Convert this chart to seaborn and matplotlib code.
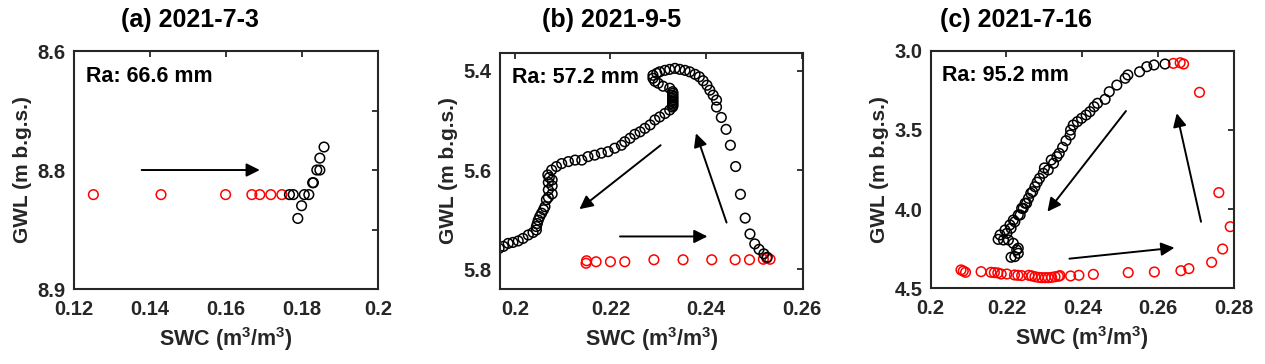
import numpy as np
import pandas as pd
import seaborn as sns
import matplotlib
matplotlib.use('Agg')
import matplotlib.pyplot as plt

sns.set_style('white')
plt.rcParams['font.family'] = ['Liberation Sans', 'DejaVu Sans']
plt.rcParams['mathtext.default'] = 'regular'

# ---- (a) 2021-7-3 ----
a_red_swc = [0.1251, 0.1429, 0.1599, 0.1668, 0.1689, 0.1718, 0.1747]
a_red_gwl = [8.781, 8.781, 8.781, 8.781, 8.781, 8.781, 8.781]
a_blk_swc = [0.1767, 0.1777, 0.1789, 0.1799, 0.1806, 0.1818, 0.1828, 0.1830,
             0.1839, 0.1847, 0.1847, 0.1858]
a_blk_gwl = [8.781, 8.781, 8.811, 8.795, 8.781, 8.781, 8.766, 8.766,
             8.750, 8.750, 8.735, 8.721]

# ---- (b) 2021-9-5 ----
b_red_swc = [0.2149, 0.2150, 0.2170, 0.2200, 0.2230, 0.2291, 0.2352, 0.2412,
             0.2461, 0.2491, 0.2520, 0.2527, 0.2534]
b_red_gwl = [5.788, 5.783, 5.785, 5.785, 5.785, 5.781, 5.781, 5.781,
             5.781, 5.781, 5.780, 5.778, 5.780]
b_blk_swc = [0.2528, 0.2521, 0.2511, 0.2502, 0.2492, 0.2482, 0.2472, 0.2462,
             0.2451, 0.2442, 0.2432, 0.2422, 0.2422, 0.2415, 0.2408, 0.2402,
             0.2394, 0.2386, 0.2377, 0.2366, 0.2356, 0.2345, 0.2335, 0.2324,
             0.2314, 0.2303, 0.2297, 0.2289, 0.2289, 0.2293, 0.2300, 0.2310,
             0.2324, 0.2330, 0.2331, 0.2330, 0.2331, 0.2330, 0.2331, 0.2330,
             0.2331, 0.2330, 0.2331, 0.2330, 0.2324, 0.2314, 0.2303, 0.2293,
             0.2283, 0.2272, 0.2262, 0.2251, 0.2241, 0.2230, 0.2223, 0.2209,
             0.2195, 0.2181, 0.2167, 0.2153, 0.2140, 0.2126, 0.2112, 0.2098,
             0.2087, 0.2077, 0.2069, 0.2072, 0.2078, 0.2070, 0.2078, 0.2070,
             0.2078, 0.2070, 0.2066, 0.2063, 0.2060, 0.2056, 0.2052, 0.2049,
             0.2047, 0.2045, 0.2045, 0.2038, 0.2028, 0.2017, 0.2007, 0.1996,
             0.1986, 0.1976, 0.1967]
b_blk_gwl = [5.776, 5.769, 5.760, 5.749, 5.729, 5.697, 5.649, 5.593,
             5.550, 5.518, 5.494, 5.473, 5.459, 5.449, 5.439, 5.429,
             5.420, 5.412, 5.407, 5.402, 5.399, 5.397, 5.395, 5.397,
             5.399, 5.402, 5.405, 5.409, 5.415, 5.421, 5.425, 5.431,
             5.435, 5.442, 5.445, 5.449, 5.452, 5.455, 5.458, 5.461,
             5.464, 5.467, 5.470, 5.473, 5.479, 5.486, 5.493, 5.499,
             5.509, 5.516, 5.523, 5.528, 5.536, 5.543, 5.550, 5.556,
             5.563, 5.566, 5.570, 5.573, 5.580, 5.580, 5.583, 5.587,
             5.593, 5.600, 5.610, 5.615, 5.620, 5.625, 5.632, 5.640,
             5.648, 5.655, 5.660, 5.674, 5.680, 5.687, 5.694, 5.701,
             5.708, 5.714, 5.721, 5.726, 5.731, 5.738, 5.743, 5.746,
             5.748, 5.754, 5.758]

# ---- (c) 2021-7-16 ----
c_red_swc = [0.2080, 0.2086, 0.2092, 0.2133, 0.2159, 0.2168, 0.2177, 0.2186,
             0.2201, 0.2221, 0.2230, 0.2240, 0.2259, 0.2267, 0.2275, 0.2284,
             0.2293, 0.2302, 0.2310, 0.2319, 0.2328, 0.2337, 0.2341, 0.2369,
             0.2391, 0.2429, 0.2521, 0.2590, 0.2660, 0.2681, 0.2741, 0.2770,
             0.2790, 0.2760, 0.2709, 0.2667, 0.2658, 0.2640]
c_red_gwl = [4.384, 4.391, 4.399, 4.395, 4.399, 4.401, 4.403, 4.410,
             4.410, 4.416, 4.418, 4.420, 4.418, 4.422, 4.427, 4.431,
             4.433, 4.433, 4.433, 4.431, 4.427, 4.424, 4.420, 4.422,
             4.418, 4.412, 4.401, 4.397, 4.389, 4.376, 4.336, 4.252,
             4.111, 3.896, 3.263, 3.084, 3.076, 3.080]
c_blk_swc = [0.2618, 0.2589, 0.2570, 0.2551, 0.2520, 0.2513, 0.2491, 0.2471,
             0.2460, 0.2440, 0.2431, 0.2420, 0.2410, 0.2398, 0.2387, 0.2376,
             0.2369, 0.2368, 0.2357, 0.2348, 0.2339, 0.2333, 0.2324, 0.2310,
             0.2297, 0.2287, 0.2275, 0.2269, 0.2258, 0.2249, 0.2240, 0.2231,
             0.2218, 0.2209, 0.2196, 0.2183, 0.2178, 0.2192, 0.2205, 0.2218,
             0.2227, 0.2231, 0.2222, 0.2212, 0.2231, 0.2201, 0.2212, 0.2222,
             0.2236, 0.2244, 0.2253, 0.2264, 0.2281, 0.2300, 0.2318]
c_blk_gwl = [3.084, 3.090, 3.101, 3.133, 3.153, 3.174, 3.217, 3.259,
             3.307, 3.332, 3.354, 3.385, 3.406, 3.427, 3.448, 3.469,
             3.501, 3.532, 3.568, 3.610, 3.648, 3.669, 3.711, 3.753,
             3.774, 3.806, 3.859, 3.890, 3.932, 3.963, 3.995, 4.037,
             4.069, 4.100, 4.132, 4.163, 4.191, 4.195, 4.195, 4.216,
             4.258, 4.279, 4.300, 4.304, 4.247, 4.153, 4.121, 4.080,
             4.037, 3.995, 3.963, 3.900, 3.830, 3.740, 3.690]

panels = [
    dict(title='(a) 2021-7-3', ra='Ra: 66.6 mm', title_x=190,
         red=(a_red_swc, a_red_gwl), blk=(a_blk_swc, a_blk_gwl),
         xlim=(0.12, 0.2), ylim=(8.9, 8.6),
         xticks=[0.12, 0.14, 0.16, 0.18, 0.2],
         xlabels=['0.12', '0.14', '0.16', '0.18', '0.2'],
         yticks=[8.6, 8.675, 8.75, 8.825, 8.9],
         ylabels=['8.6', '', '8.8', '', '8.9'],
         arrows=[((0.1378, 8.75), (0.1689, 8.75))],
         pos=[0.0585, 0.206, 0.2403, 0.6538]),
    dict(title='(b) 2021-9-5', ra='Ra: 57.2 mm', title_x=612,
         red=(b_red_swc, b_red_gwl), blk=(b_blk_swc, b_blk_gwl),
         xlim=(0.1969, 0.2603), ylim=(5.840, 5.364),
         xticks=[0.2, 0.22, 0.24, 0.26],
         xlabels=['0.2', '0.22', '0.24', '0.26'],
         yticks=[5.4, 5.6, 5.8],
         ylabels=['5.4', '5.6', '5.8'],
         arrows=[((0.2305, 5.550), (0.2135, 5.679)),
                 ((0.2220, 5.734), (0.2403, 5.734)),
                 ((0.2443, 5.706), (0.2379, 5.526))],
         pos=[0.3953, 0.206, 0.2395, 0.6484]),
    dict(title='(c) 2021-7-16', ra='Ra: 95.2 mm', title_x=1016,
         red=(c_red_swc, c_red_gwl), blk=(c_blk_swc, c_blk_gwl),
         xlim=(0.2, 0.28), ylim=(4.5, 3.0),
         xticks=[0.2, 0.22, 0.24, 0.26, 0.28],
         xlabels=['0.2', '0.22', '0.24', '0.26', '0.28'],
         yticks=[3.0, 3.5, 4.0, 4.5],
         ylabels=['3.0', '3.5', '4.0', '4.5'],
         arrows=[((0.2515, 3.381), (0.2308, 4.016)),
                 ((0.2366, 4.313), (0.2643, 4.244)),
                 ((0.2713, 4.080), (0.2649, 3.395))],
         pos=[0.7357, 0.208, 0.2398, 0.6527]),
]

dark = '#262626'
fig = plt.figure(figsize=(12.65, 3.64), dpi=100)

for p in panels:
    ax = fig.add_axes(p['pos'])
    red = pd.DataFrame({'SWC': p['red'][0], 'GWL': p['red'][1]})
    blk = pd.DataFrame({'SWC': p['blk'][0], 'GWL': p['blk'][1]})
    sns.scatterplot(data=red, x='SWC', y='GWL', ax=ax, marker='o', s=48,
                    facecolor='none', edgecolor='#ff0000', linewidth=1.1)
    sns.scatterplot(data=blk, x='SWC', y='GWL', ax=ax, marker='o', s=48,
                    facecolor='none', edgecolor='black', linewidth=1.1)
    for start, end in p['arrows']:
        ax.annotate('', xy=end, xytext=start,
                    arrowprops=dict(arrowstyle='-|>', color='black', lw=1.4,
                                    mutation_scale=20, shrinkA=0, shrinkB=0))
    ax.set_xlim(p['xlim'])
    ax.set_ylim(p['ylim'])
    ax.set_xticks(p['xticks'])
    ax.set_xticklabels(p['xlabels'])
    ax.set_yticks(p['yticks'])
    ax.set_yticklabels(p['ylabels'])
    ax.tick_params(direction='in', length=4, width=1.3, colors=dark,
                   labelsize=14.5, top=True, right=True)
    ax.tick_params(axis='x', pad=8)
    ax.tick_params(axis='y', pad=6)
    for lab in ax.get_xticklabels() + ax.get_yticklabels():
        lab.set_fontweight('bold')
    for s in ax.spines.values():
        s.set_visible(True)
        s.set_color(dark)
        s.set_linewidth(1.5)
    ax.set_xlabel('SWC (m$^3$/m$^3$)', fontsize=15.5, fontweight='bold',
                  color=dark, labelpad=4)
    ax.set_ylabel('GWL (m b.g.s.)', fontsize=15, fontweight='bold',
                  color=dark, labelpad=4)
    fig.text(p['title_x'] / 1265, 1 - 20 / 364, p['title'], fontsize=18,
             fontweight='bold', color='black', ha='center', va='center')
    ax.text(0.038, 0.895, p['ra'], transform=ax.transAxes, fontsize=15.5,
            fontweight='bold', va='center', ha='left', color='black')

fig.savefig('out.png', dpi=100)
